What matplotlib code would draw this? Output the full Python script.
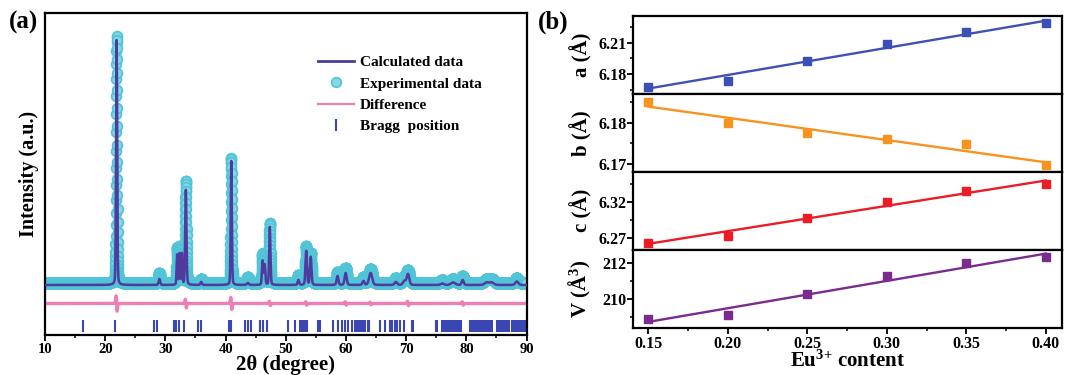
import numpy as np
import matplotlib
matplotlib.use('Agg')
import matplotlib.pyplot as plt
from matplotlib.ticker import MultipleLocator, FixedLocator, FormatStrFormatter
from matplotlib.lines import Line2D

# ---------------- panel (a): Rietveld refinement ----------------
peak_pos = [21.9, 29.0, 31.95, 32.35, 32.75, 33.4, 35.95, 40.95, 43.7, 46.15, 46.5,
            47.35, 52.1, 53.4, 54.15, 58.6, 59.95, 62.9, 64.1, 68.3, 69.7, 70.3,
            76.0, 77.8, 79.4, 83.4, 84.2, 88.4]
calc_height = [245, 6, 30, 31, 31, 95, 3, 124, 2, 24, 20,
               58, 5, 34, 28, 9, 12, 4, 12, 3, 4, 11,
               1.5, 2.5, 5, 2.5, 2.5, 3.5]
exp_height = [247, 10, 35, 36, 36, 102, 4, 125, 6, 29, 25,
              60, 8, 37, 30, 11, 15, 6, 14, 5, 6, 13,
              3, 4, 7, 4, 4, 5]
peak_fwhm = [0.22, 0.3, 0.2, 0.2, 0.2, 0.25, 0.3, 0.22, 0.4, 0.25, 0.25,
             0.25, 0.3, 0.3, 0.3, 0.35, 0.4, 0.4, 0.6, 0.5, 0.5, 0.5,
             0.6, 0.8, 0.4, 0.8, 0.8, 0.6]
diff_pos = [21.9, 33.4, 40.95, 47.35, 53.4, 59.95, 64.1, 70.3, 79.4]
diff_amp = [18, 10, 14, 5, 4, 4, 3, 5, 4]
bragg_pos = [16.3, 21.6, 28.1, 28.6, 31.4, 31.8, 32.3, 33.1, 35.4, 36.0, 40.5, 40.9,
             43.3, 43.8, 44.3, 45.8, 46.3, 46.9, 50.3, 51.5, 52.4, 52.7, 53.0, 53.3,
             53.6, 55.3, 55.7, 57.9, 58.6, 59.3, 59.85, 60.4, 60.95, 61.5, 61.8, 62.2,
             62.5, 62.9, 63.2, 63.6, 63.9, 65.7, 66.5, 67.3, 67.6, 68.2, 68.5, 69.0,
             69.6, 70.9, 71.2, 74.9, 75.2, 75.9, 76.2, 76.5, 76.8, 77.1, 77.4, 77.7,
             78.0, 78.3, 78.6, 78.9, 79.2, 80.6, 80.9, 81.2, 81.5, 81.8, 82.1, 82.4,
             82.7, 83.0, 83.3, 83.6, 83.9, 84.2, 85.1, 85.4, 85.8, 86.1, 86.4, 86.8,
             87.1, 87.6, 87.9, 88.2, 88.5, 88.8, 89.1, 89.4, 89.7]
diff_offset = -18.5
bragg_level = -40.5

# ---------------- panel (b): lattice parameters ----------------
eu_content = [0.15, 0.20, 0.25, 0.30, 0.35, 0.40]
a_vals = [6.1677, 6.1735, 6.1922, 6.2087, 6.2200, 6.2284]
b_vals = [6.1852, 6.1801, 6.1776, 6.1760, 6.1749, 6.1698]
c_vals = [6.2637, 6.2733, 6.2984, 6.3200, 6.3346, 6.3452]
v_vals = [208.91, 209.13, 210.27, 211.25, 212.00, 212.31]
fit_x = [0.15, 0.40]
a_fit = [6.1661, 6.2310]
b_fit = [6.1840, 6.1704]
c_fit = [6.2624, 6.3496]
v_fit = [208.73, 212.51]
a_ticks = [6.18, 6.21]
b_ticks = [6.17, 6.18]
c_ticks = [6.27, 6.32]
v_ticks = [210, 212]
a_minor = [6.165, 6.195, 6.225]
b_minor = [6.175, 6.185]
c_minor = [6.295, 6.345]
v_minor = [209, 211]

plt.rcParams['font.family'] = ['Liberation Serif', 'DejaVu Serif']
plt.rcParams['font.weight'] = 'bold'
plt.rcParams['axes.labelweight'] = 'bold'
plt.rcParams['mathtext.fontset'] = 'custom'
plt.rcParams['mathtext.rm'] = 'Liberation Serif:bold'
plt.rcParams['mathtext.it'] = 'Liberation Serif:bold'
plt.rcParams['mathtext.bf'] = 'Liberation Serif:bold'


def profile(x, pos, heights, widths):
    y = np.zeros_like(x)
    for p, h, w in zip(pos, heights, widths):
        g = np.exp(-4 * np.log(2) * ((x - p) / w) ** 2)
        l = 1.0 / (1 + 4 * ((x - p) / w) ** 2)
        y += h * (0.8 * g + 0.2 * l)
    return y


def wiggle(x, pos, amps, w=0.12):
    y = np.zeros_like(x)
    for p, a in zip(pos, amps):
        u = (x - p) / w
        y += -a * 1.0 * u * np.exp(-u ** 2)
    return y


W, H = 1065, 375
fig = plt.figure(figsize=(W / 100, H / 100), dpi=100)

calc_c = '#4f3a9e'
exp_fc = '#86d8e4'
exp_ec = '#52c4d8'
diff_c = '#ee7fb5'
bragg_c = '#3a46b2'

ax = fig.add_axes([45 / W, 1 - 335 / H, 481.5 / W, 322 / H])
xc = np.arange(10, 90.0001, 0.005)
xe = np.arange(10, 90.0001, 0.012)
ycalc = profile(xc, peak_pos, calc_height, peak_fwhm)
yexp = profile(xe, peak_pos, exp_height, peak_fwhm) + 2.0
ydiff = wiggle(xc, diff_pos, diff_amp) + diff_offset

ax.plot(xe, yexp, ls='', marker='o', ms=7.0, mfc=exp_fc, mec=exp_ec, mew=1.3, zorder=1)
ax.plot(xc, ycalc, color=calc_c, lw=1.8, zorder=3)
ax.plot(xc, ydiff, color=diff_c, lw=2.4, zorder=2)
ax.plot(bragg_pos, [bragg_level] * len(bragg_pos), ls='', marker='|', ms=8,
        mew=1.5, color=bragg_c, zorder=2)

ax.set_xlim(10, 90)
ax.set_ylim(-50, 272)
ax.set_yticks([])
ax.xaxis.set_major_locator(MultipleLocator(10))
ax.xaxis.set_minor_locator(MultipleLocator(5))
ax.tick_params(axis='x', which='major', direction='out', length=4, width=1.3,
               labelsize=10.5, pad=1.5)
ax.tick_params(axis='x', which='minor', direction='out', length=2.5, width=1.1)
for s in ax.spines.values():
    s.set_linewidth(1.6)
ax.set_xlabel('2θ (degree)', fontsize=15, fontweight='bold')
ax.xaxis.set_label_coords(0.5, -0.063)
ax.xaxis.label.set_va('top')
ax.set_ylabel('Intensity (a.u.)', fontsize=14.5, fontweight='bold')
ax.yaxis.set_label_coords(-0.012, 0.5)

handles = [
    Line2D([], [], color=calc_c, lw=2),
    Line2D([], [], ls='', marker='o', ms=7, mfc=exp_fc, mec=exp_ec, mew=1.2),
    Line2D([], [], color=diff_c, lw=1.6),
    Line2D([], [], ls='', marker='|', ms=9, mew=1.5, color=bragg_c),
]
labels = ['Calculated data', 'Experimental data', 'Difference', 'Bragg  position']
ax.legend(handles, labels, loc='upper left', bbox_to_anchor=(0.566, 0.868),
          frameon=False, handlelength=2.4, handletextpad=0.35,
          labelspacing=0.5, borderpad=0, borderaxespad=0,
          prop={'weight': 'bold', 'size': 11})

# ---------------- panel (b) ----------------
gs = fig.add_gridspec(4, 1, left=633.3 / W, right=1061.7 / W,
                      bottom=1 - 327.5 / H, top=1 - 16 / H, hspace=0)
panels = [
    (a_vals, a_fit, '#3b4fb6', '#3f51b5', 'a (Å)', (6.161, 6.2355), a_ticks, a_minor, '%.2f'),
    (b_vals, b_fit, '#f7931e', '#f7931e', 'b (Å)', (6.1681, 6.1871), b_ticks, b_minor, '%.2f'),
    (c_vals, c_fit, '#ec1c26', '#ec1c26', 'c (Å)', (6.2544, 6.3617), c_ticks, c_minor, '%.2f'),
    (v_vals, v_fit, '#7b2a8d', '#7b2a8d', 'V (Å$^3$)', (208.42, 212.73), v_ticks, v_minor, '%d'),
]
for i, (vals, fit, mcol, lcol, lab, ylim, major, minor, fmt) in enumerate(panels):
    axb = fig.add_subplot(gs[i])
    axb.plot(fit_x, fit, color=lcol, lw=1.7, zorder=2)
    axb.plot(eu_content, vals, ls='', marker='s', ms=6.2, color=mcol, zorder=3)
    axb.set_xlim(0.1406, 0.410)
    axb.set_ylim(*ylim)
    axb.yaxis.set_major_locator(FixedLocator(major))
    axb.yaxis.set_minor_locator(FixedLocator(minor))
    axb.yaxis.set_major_formatter(FormatStrFormatter(fmt))
    axb.xaxis.set_major_locator(MultipleLocator(0.05))
    axb.xaxis.set_minor_locator(MultipleLocator(0.025))
    axb.tick_params(axis='y', which='major', direction='out', length=4, width=1.3,
                    labelsize=11.5, pad=1)
    axb.tick_params(axis='y', which='minor', direction='out', length=2.5, width=1.1)
    for s in axb.spines.values():
        s.set_linewidth(1.6)
    axb.set_ylabel(lab, fontsize=15, fontweight='bold')
    axb.yaxis.set_label_coords(-0.095, 0.5)
    if i < 3:
        axb.tick_params(axis='x', which='both', bottom=False, labelbottom=False)
    else:
        axb.xaxis.set_major_formatter(FormatStrFormatter('%.2f'))
        axb.tick_params(axis='x', which='major', direction='out', length=4, width=1.3,
                        labelsize=11.5, pad=2)
        axb.tick_params(axis='x', which='minor', direction='out', length=2.5, width=1.1)
        axb.set_xlabel('Eu$^{3{+}}$ content', fontsize=15, fontweight='bold')
        axb.xaxis.set_label_coords(0.5, -0.30)
        axb.xaxis.label.set_va('top')

fig.text(9 / W, 1 - 11 / H, '(a)', fontsize=18, fontweight='bold', va='top', ha='left')
fig.text(538 / W, 1 - 11 / H, '(b)', fontsize=18, fontweight='bold', va='top', ha='left')

fig.savefig('out.png', dpi=100)
